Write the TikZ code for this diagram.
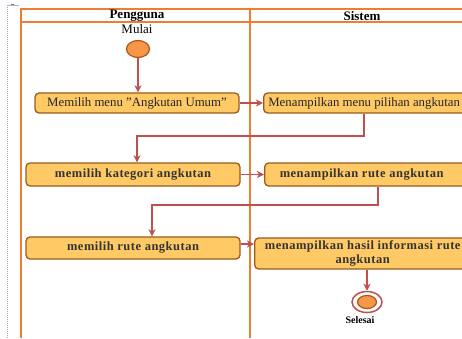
\documentclass[tikz,border=0pt]{standalone}
\usepackage{fontspec}
\setmainfont{Liberation Serif}
\newfontfamily\boxsp[LetterSpace=4]{Liberation Serif}
\usetikzlibrary{arrows.meta,shapes.geometric}
\definecolor{frameor}{HTML}{ED7D31}
\definecolor{boxfill}{HTML}{FFC965}
\definecolor{boxbd}{HTML}{9A5B1E}
\definecolor{arrowred}{HTML}{C0504D}
\definecolor{startfill}{HTML}{F79646}
\definecolor{startbd}{HTML}{A8561A}
\begin{document}
\begin{tikzpicture}[x=1pt,y=-1pt,
  box/.style={draw=boxbd, fill=boxfill, line width=1.3pt, rounded corners=4pt, inner sep=2pt, font=\fontsize{12.8}{14}\selectfont, text=black!85},
  boxb/.style={box, font=\boxsp\bfseries\fontsize{12.5}{14}\selectfont, text=black!80},
  flow/.style={draw=arrowred, line width=1.8pt, -{Stealth[length=7pt,width=7pt,inset=2pt]}},
  lane/.style={draw=frameor, line width=1.6pt},
  head/.style={font=\fontsize{13}{14}\selectfont\bfseries, inner sep=0pt},
  initnode/.style={ellipse, draw=startbd, fill=startfill, line width=1.2pt, minimum width=23pt, minimum height=17pt, inner sep=0pt},
]
\useasboundingbox (0,0) rectangle (462,338);
\clip (0,0) rectangle (462,338);
% left margin marks
\draw[gray!70, line width=0.8pt, dash pattern=on 1pt off 1pt] (7,5) -- (7,338);
\draw[gray!60, line width=0.6pt] (7,5) -- (19,5);
\draw[blue!60, line width=0.8pt] (11,4.5) -- (14,4.5);
% swimlane frame
\draw[lane] (21,338) -- (21,9) -- (470,9);
\draw[lane] (21,22) -- (470,22);
\draw[lane] (250,9) -- (250,338);
% headers
\node[head] (hp) at (137,16) {Pengguna};
\node[head] (hs) at (362,16) {Sistem};
\node[font=\fontsize{13}{14}\selectfont, inner sep=0pt] (mulai) at (137,29) {Mulai};
% nodes
\node[initnode] (start) at (138,49) {};
\node[box, minimum width=204pt, minimum height=20pt] (b1) at (137,103) {Memilih menu "Angkutan Umum"};
\node[box, anchor=west, minimum width=210pt, minimum height=20pt] (b2) at (263,103) {\hspace*{-9pt}Menampilkan menu pilihan angkutan};
\node[boxb, minimum width=214pt, minimum height=23pt] (b3) at (133,174.5) {memilih kategori angkutan};
\node[boxb, anchor=west, minimum width=206pt, minimum height=23pt] (b4) at (264,174.5) {\hspace*{-12pt}menampilkan rute angkutan};
\node[boxb, minimum width=214pt, minimum height=22pt] (b5) at (133,248) {memilih rute angkutan};
\node[boxb, anchor=west, minimum width=216pt, minimum height=31pt, align=center] (b6) at (254,253.5) {menampilkan hasil informasi rute\\angkutan};
\node[ellipse, draw=arrowred, fill=white, line width=1.5pt, minimum width=30pt, minimum height=21pt, inner sep=0pt] (endo) at (367,302) {};
\node[initnode, minimum width=19pt, minimum height=13pt] (endi) at (367,302) {};
\node[font=\fontsize{10}{12}\selectfont\bfseries, inner sep=0pt] (selesai) at (360,320) {Selesai};
% connectors
\draw[flow] (start.south) -- (start.south |- b1.north);
\draw[flow] (b1.east) -- (b2.west);
\draw[flow] ([xshift=101pt]b2.south west) -- ++(0,22) -| ([xshift=4pt]b3.north);
\draw[flow] (b3.east) -- (b4.west);
\draw[flow] ([xshift=114pt]b4.south west) -- ++(0,18.5) -| ([xshift=19pt]b5.north);
\draw[flow] ([yshift=4pt]b5.east) -- ([yshift=4pt]b5.east -| b6.west);
\draw[flow] (b6.south -| endo) -- (endo.north);
\end{tikzpicture}
\end{document}
